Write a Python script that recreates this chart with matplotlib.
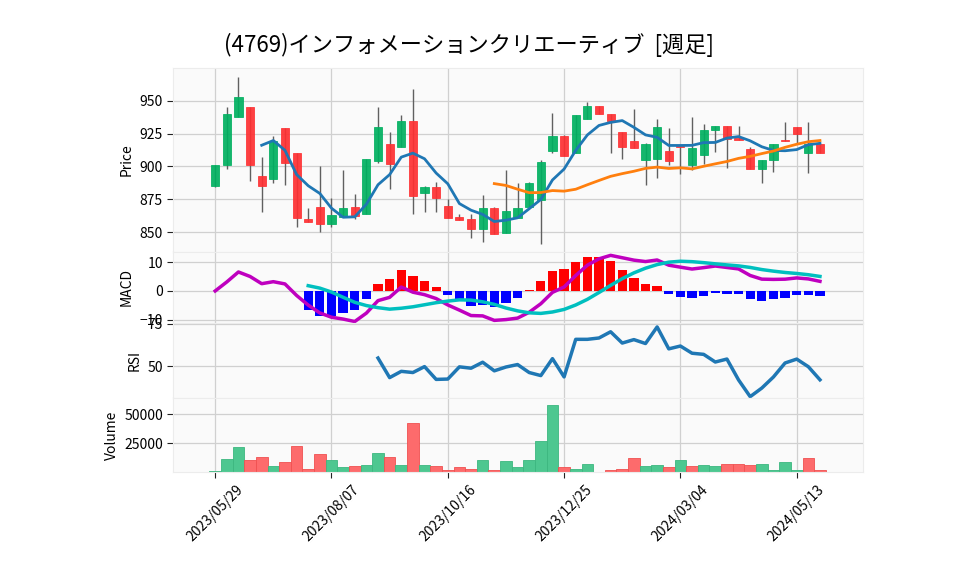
import numpy as np
import pandas as pd
import matplotlib
matplotlib.use("Agg")
import matplotlib.pyplot as plt

plt.rcParams['font.family'] = ['Noto Sans CJK JP', 'DejaVu Sans']

title = "(4769)インフォメーションクリエーティブ  [週足]"
start_date = "2023-05-29"

opens = [885.5, 900.8, 937.5, 945.6, 892.9, 890.1, 929.6, 910.5, 860.0, 869.4,
         856.0, 861.8, 869.2, 863.6, 904.1, 917.4, 914.5, 935.0, 879.6, 884.5,
         870.0, 861.3, 860.0, 852.6, 868.4, 849.6, 860.8, 869.4, 874.5, 911.5,
         923.2, 910.0, 936.0, 946.4, 940.3, 926.5, 919.6, 904.9, 905.6, 912.0,
         915.6, 901.5, 908.4, 927.5, 930.9, 921.4, 913.3, 898.0, 904.9, 920.4,
         930.1, 910.2, 917.1]
highs = [901.1, 945.4, 968.6, 945.6, 907.2, 923.5, 929.6, 910.5, 868.2, 900.5,
         875.8, 897.5, 878.9, 905.9, 945.4, 926.5, 939.5, 959.2, 885.2, 888.0,
         875.0, 863.8, 863.8, 878.6, 869.2, 897.5, 887.3, 887.8, 905.1, 940.8,
         924.3, 939.5, 948.9, 946.4, 940.3, 926.5, 943.9, 917.9, 936.2, 929.3,
         915.6, 937.8, 932.4, 931.1, 930.9, 931.1, 914.5, 905.1, 917.1, 933.9,
         930.1, 933.9, 917.1]
lows = [884.7, 898.0, 937.5, 889.0, 865.1, 887.3, 885.8, 853.7, 858.0, 849.9,
        854.1, 861.8, 859.8, 863.6, 903.0, 882.7, 914.5, 863.6, 865.4, 865.1,
        861.0, 859.5, 845.5, 842.5, 848.8, 849.6, 860.8, 869.4, 840.9, 910.2,
        907.7, 910.0, 936.0, 939.8, 910.2, 905.9, 913.8, 886.0, 891.1, 901.1,
        894.2, 897.5, 902.1, 911.0, 898.8, 920.4, 898.0, 887.3, 895.7, 919.4,
        917.9, 894.9, 910.2]
closes = [901.1, 940.3, 953.3, 900.8, 885.5, 919.1, 903.0, 861.0, 858.0, 856.0,
          863.1, 868.4, 862.6, 905.9, 930.4, 901.8, 935.0, 877.8, 884.5, 875.8,
          861.0, 859.5, 852.6, 868.4, 848.8, 866.1, 868.4, 887.3, 903.6, 923.2,
          907.7, 939.5, 946.2, 939.8, 935.0, 914.5, 913.8, 917.4, 930.4, 904.1,
          914.5, 914.2, 927.8, 931.1, 920.6, 920.4, 898.0, 905.1, 917.1, 919.4,
          924.8, 916.8, 910.2]
volumes = [1440, 11250, 21600, 10400, 13550, 5200, 8650, 22500, 3460, 16150,
           10400, 4330, 5200, 6060, 16440, 12980, 6060, 42400, 6060, 5200,
           2600, 4330, 3460, 10400, 2600, 9500, 4330, 10400, 26800, 58000,
           4330, 3460, 6920, 865, 2600, 3460, 12100, 5200, 6060, 4330,
           10400, 5200, 6060, 5200, 6920, 6920, 6060, 6920, 2600, 8650,
           2600, 12100, 2600]

n = len(closes)
dates = pd.date_range(start_date, periods=n, freq="7D")
df = pd.DataFrame({"Open": opens, "High": highs, "Low": lows,
                   "Close": closes, "Volume": volumes}, index=dates)
x = np.arange(n)

# indicators
sma5 = df.Close.rolling(5).mean()
sma25 = df.Close.rolling(25).mean()
ema12 = df.Close.ewm(span=12, adjust=False).mean()
ema26 = df.Close.ewm(span=26, adjust=False).mean()
macd = ema12 - ema26
signal = macd.rolling(9).mean()
hist = macd - signal
delta = df.Close.diff()
gain = delta.clip(lower=0).rolling(14).mean()
loss = (-delta.clip(upper=0)).rolling(14).mean()
rsi = 100 - 100 / (1 + gain / loss)

UP, DOWN = '#00b060', '#fe3032'
VUP, VDOWN = '#4dc790', '#fd6b6c'
FACE = '#fafafa'
GRID = '#d0d0d0'

fig = plt.figure(figsize=(9.58, 5.75), dpi=100)
L, R = 173.3 / 958, 863 / 958
def box(top, bot):
    return [L, 1 - bot / 575, R - L, (bot - top) / 575]

ax1 = fig.add_axes(box(68, 252))
ax2 = fig.add_axes(box(252, 323), sharex=ax1)
ax3 = fig.add_axes(box(323, 398), sharex=ax1)
ax4 = fig.add_axes(box(398, 472.3), sharex=ax1)

for ax in (ax1, ax2, ax3, ax4):
    ax.set_facecolor(FACE)
    ax.grid(True, color=GRID, linewidth=0.9)
    ax.set_axisbelow(True)
    for s in ax.spines.values():
        s.set_color('#ececec')
    ax.tick_params(labelsize=10, length=4, color='#222222')

# candles
o = np.array(opens); c = np.array(closes); h = np.array(highs); l = np.array(lows)
up = c >= o
ccol = np.where(up, UP, DOWN)
ax1.vlines(x, l, h, color='#606060', linewidth=1.0, zorder=2)
ax1.bar(x, np.maximum(np.abs(c - o), 0.3), bottom=np.minimum(o, c), width=0.7,
        color=ccol, edgecolor=ccol, linewidth=0.6, alpha=0.92, zorder=3)
ax1.plot(x, sma5, color='#1f77b4', linewidth=2.0, zorder=4)
ax1.plot(x, sma25, color='#ff7f0e', linewidth=2.0, zorder=4)
ax1.set_ylim(834.8, 975.1)
ax1.set_yticks([850, 875, 900, 925, 950])
ax1.set_ylabel("Price", fontsize=10)

# MACD
hcol = np.where(hist >= 0, 'red', 'blue')
ax2.bar(x, hist, width=0.8, color=hcol, zorder=2)
ax2.plot(x, macd, color='m', linewidth=2.5, zorder=3)
ax2.plot(x, signal, color='c', linewidth=2.5, zorder=3)
ax2.set_ylim(-11.1, 13.5)
ax2.set_yticks([-10, 0, 10])
ax2.set_ylabel("MACD", fontsize=10)

# RSI
ax3.plot(x, rsi, color='#1f77b4', linewidth=2.5)
ax3.set_ylim(31.5, 75.3)
ax3.set_yticks([50, 75])
ax3.set_ylabel("RSI", fontsize=10)

# Volume (colored by close vs previous close)
prev = np.concatenate([[c[0] - 1], c[:-1]])
vcol = np.where(c >= prev, VUP, VDOWN)
vedge = np.where(c >= prev, '#3cb77f', '#f05050')
ax4.bar(x, volumes, width=1.0, color=vcol, edgecolor=vedge, linewidth=0.6)
ax4.set_ylim(200, 64000)
ax4.set_yticks([25000, 50000])
ax4.set_ylabel("Volume", fontsize=10)

ticks = list(range(0, n, 10))
ax4.set_xticks(ticks)
ax4.set_xticklabels([dates[i].strftime("%Y/%m/%d") for i in ticks],
                    rotation=45, ha='center', fontsize=10)
for ax in (ax1, ax2, ax3):
    ax.tick_params(axis='x', which='both', bottom=False, labelbottom=False)
ax1.set_xlim(-3.6, 55.7)

fig.text(469 / 958, 1 - 45 / 575, title, ha='center', va='center', fontsize=16)

fig.savefig("out.png", dpi=100, facecolor='white')
